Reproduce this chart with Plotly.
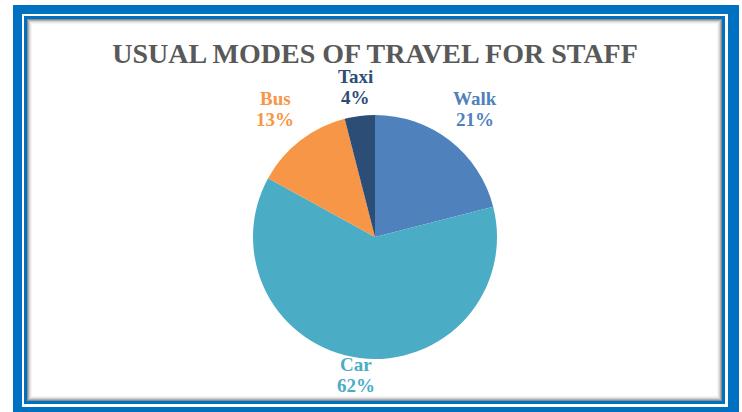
import math
import plotly.graph_objects as go

categories = ["Walk", "Car", "Bus", "Taxi"]
values = [21, 62, 13, 4]
colors = ["#4F81BD", "#4BACC6", "#F79646", "#2C4D75"]
title_text = "USUAL MODES OF TRAVEL FOR STAFF"

W, H = 742, 412
CX, CY, R = 375, 237, 122  # pie centre and radius in pixels
PLOT_BOTTOM = 375           # lowest label centre allowed inside plot area

def px(x):
    return x / W

def py(y):
    return 1 - y / H

fig = go.Figure()
fig.add_trace(go.Pie(
    labels=categories,
    values=values,
    marker=dict(colors=colors, line=dict(color="white", width=0)),
    sort=False,
    direction="clockwise",
    rotation=0,
    textinfo="none",
    hoverinfo="skip",
    showlegend=False,
    domain=dict(x=[px(CX - R), px(CX + R)], y=[py(CY + R), py(CY - R)]),
))

# data labels placed just outside each slice, along its mid-angle
total = sum(values)
cum = 0
annotations = []
label_font = "Liberation Serif"
for cat, val, col in zip(categories, values, colors):
    mid = (cum + val / 2) / total * 2 * math.pi
    cum += val
    dx, dy = math.sin(mid), -math.cos(mid)
    bw, bh, gap = 60, 36, 8
    dist = R + gap + abs(dx) * bw / 2 + abs(dy) * bh / 2
    lx, ly = CX + dx * dist, CY + dy * dist
    ly = min(ly, PLOT_BOTTOM)
    pct = round(val / total * 100)
    for txt, off in ((f"<b>{cat}</b>", -10.5), (f"<b>{pct}%</b>", 10.5)):
        annotations.append(dict(
            text=txt, x=px(lx), y=py(ly + off),
            xref="paper", yref="paper", xanchor="center", yanchor="middle",
            showarrow=False, align="center",
            font=dict(family=label_font, size=19, color=col),
        ))

shapes = []
def rect(x0, y0, x1, y1, color):
    shapes.append(dict(type="rect", xref="paper", yref="paper",
                       x0=px(x0), x1=px(x1), y0=py(y1), y1=py(y0),
                       fillcolor=color, line=dict(width=0), layer="below"))

rect(13, 5, 739, 414, "#0070C0")
rect(22, 14, 728, 407, "white")
rect(24, 16, 725, 404, "#0070C0")
rect(27, 19, 722, 401, "#8c8c8c")
rect(28, 20, 721, 400, "#b0b0b0")
rect(29, 21, 720, 399, "#d2d2d2")
rect(30, 22, 719, 398, "#e8e8e8")
rect(31, 23, 718, 397, "#f5f5f5")
rect(32, 24, 717, 396, "white")

fig.update_layout(
    width=W, height=H,
    margin=dict(l=0, r=0, t=0, b=0),
    paper_bgcolor="white",
    plot_bgcolor="white",
    shapes=shapes,
    annotations=annotations,
    title=dict(text="<b>" + title_text + "</b>", x=px(375), xanchor="center",
               y=py(53), yanchor="middle",
               font=dict(family="Liberation Serif", size=28, color="#595959")),
)

fig.write_html("out.html", config={"displayModeBar": False},
               post_script="document.body.style.margin='0';document.body.style.overflow='hidden';")
